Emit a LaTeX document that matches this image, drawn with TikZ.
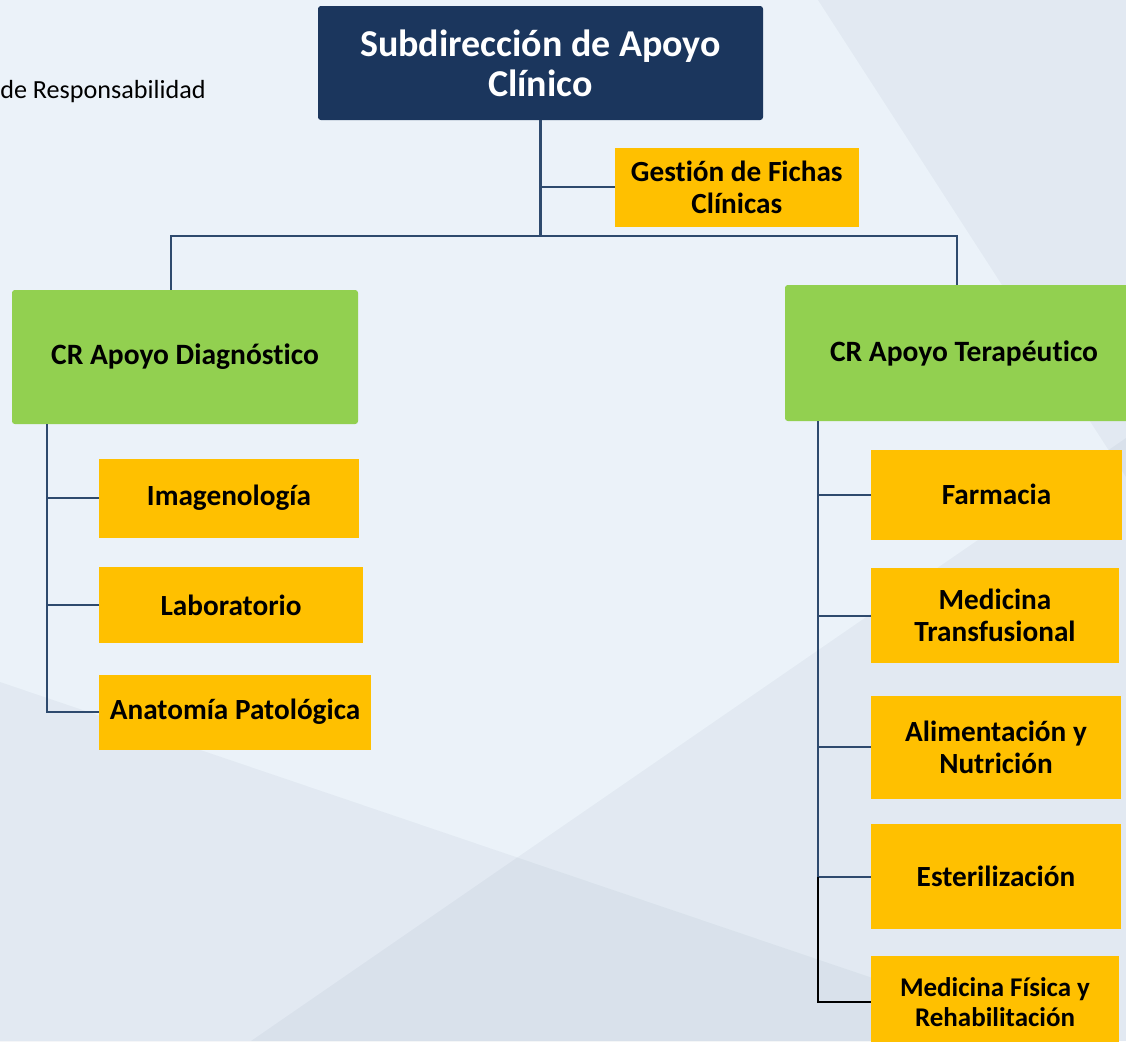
\documentclass[tikz,border=0pt]{standalone}
\usepackage{fontspec}
\setmainfont[Ligatures=NoCommon]{Carlito}
\usetikzlibrary{positioning}

\definecolor{navy}{HTML}{1B365D}
\definecolor{leafgreen}{HTML}{92D050}
\definecolor{gold}{HTML}{FFC000}
\definecolor{paper}{HTML}{EBF2F9}
\definecolor{linkblue}{HTML}{2E4A6E}

\tikzstyle{head} = [rectangle, rounded corners=2pt, fill=navy, text=white, font=\fontsize{27}{28.5}\bfseries, align=center, minimum width=11.125cm, minimum height=2.85cm, inner sep=0pt]
\tikzstyle{area} = [rectangle, rounded corners=2pt, fill=leafgreen, font=\fontsize{21}{23}\bfseries, align=center, inner sep=0pt]
\tikzstyle{unit} = [rectangle, fill=gold, font=\fontsize{20.8}{22.8}\bfseries, align=center, inner sep=0pt]
\tikzstyle{link} = [draw=linkblue, line width=1.45pt]
\tikzstyle{shade} = [fill=navy, opacity=0.045]

\begin{document}
\begin{tikzpicture}

% Page and background
\useasboundingbox (0,0) rectangle (28.15,-26.025);
\clip (0,0) rectangle (28.15,-26.025);
\fill [paper] (0,0) rectangle (28.15,-26.025);
\fill [shade] (20.45,0) -- (28.15,0) -- (28.15,-11.925) -- cycle;
\fill [shade] (0,-17.05) -- (28.15,-26.6) -- (0,-26.6) -- cycle;
\fill [shade] (6.275,-26.025) -- (28.15,-10.95) -- (28.15,-26.025) -- cycle;

\node (resp) [anchor=base west, inner sep=0pt, font=\fontsize{18.6}{20}\selectfont] at (0,-2.45) {de Responsabilidad};

% Head and first level
\node (sub) [head] at (13.5125,-1.575) {Subdirección de Apoyo\\Clínico};
\node (gestion) [unit, minimum width=6.1cm, minimum height=1.975cm, below right=0.675cm and 1.85cm of sub.south] {Gestión de Fichas\\Clínicas};
\node (diag) [area, minimum width=8.65cm, minimum height=3.35cm] at (4.625,-8.925) {CR Apoyo Diagnóstico};
\node (terap) [area, minimum width=8.95cm, minimum height=3.4cm] at (24.1,-8.825) {CR Apoyo Terapéutico};

% Units under CR Apoyo Diagnóstico
\node (imag) [unit, minimum width=6.5cm, minimum height=1.975cm, below right=0.85cm and 2.175cm of diag.south west] {Imagenología};
\node (lab) [unit, minimum width=6.6cm, minimum height=1.9cm, below right=0.725cm and 0cm of imag.south west] {Laboratorio};
\node (anat) [unit, minimum width=6.8cm, minimum height=1.875cm, below right=0.775cm and 0cm of lab.south west] {Anatomía Patológica};

% Units under CR Apoyo Terapéutico
\node (farm) [unit, minimum width=6.275cm, minimum height=2.25cm, below right=0.7cm and 2.15cm of terap.south west] {Farmacia};
\node (medt) [unit, minimum width=6.2cm, minimum height=2.375cm, below right=0.7cm and 0cm of farm.south west] {Medicina\\Transfusional};
\node (alim) [unit, minimum width=6.25cm, minimum height=2.575cm, below right=0.8cm and 0cm of medt.south west] {Alimentación y\\Nutrición};
\node (ester) [unit, minimum width=6.25cm, minimum height=2.625cm, below right=0.625cm and 0cm of alim.south west] {Esterilización};
\node (mfr) [unit, minimum width=6.2cm, minimum height=2.3cm, font=\fontsize{19.2}{21.3}\bfseries, below right=0.65cm and 0cm of ester.south west] {Medicina Física y\\Rehabilitación};

% Connections
\draw [link] (sub.south) -- ++(0,-2.9) coordinate (split);
\draw [link] (sub.south |- gestion.west) -- (gestion.west);
\draw [link] ([xshift=-0.35cm]diag.north) |- (split) -| ([xshift=-0.175cm]terap.north);

\coordinate (dtrunk) at ([xshift=0.875cm]diag.south west);
\draw [link] (dtrunk) |- (anat.west);
\foreach \n in {imag,lab}
  \draw [link] (\n.west) -- (\n.west -| dtrunk);

\coordinate (ttrunk) at ([xshift=0.825cm]terap.south west);
\draw [link] (ttrunk) |- (ester.west);
\foreach \n in {farm,medt,alim}
  \draw [link] (\n.west) -- (\n.west -| ttrunk);
\draw [link, draw=black] (ester.west -| ttrunk) |- (mfr.west);

\end{tikzpicture}
\end{document}
